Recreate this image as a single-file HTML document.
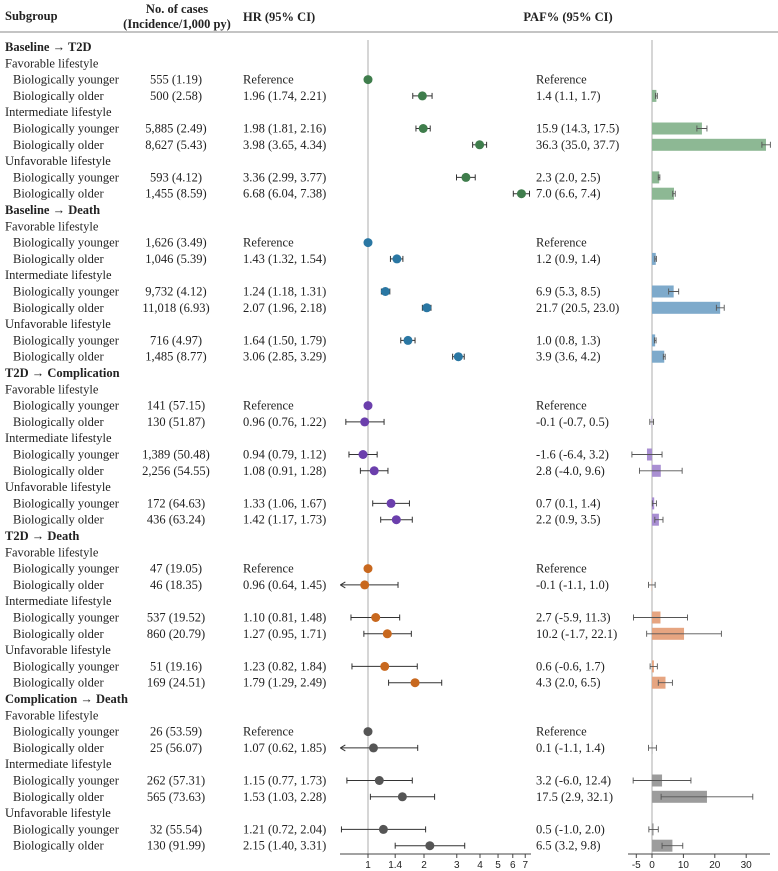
<!DOCTYPE html>
<html><head><meta charset="utf-8"><style>
body{margin:0;background:#fff}
svg{display:block;font-family:"Liberation Serif",serif;font-size:12.5px;fill:#222}
.ax{font-family:"Liberation Sans",sans-serif;font-size:10px}
</style></head><body>
<svg id="c" width="778" height="871"></svg>
<script>
const sections=["Baseline → T2D","Baseline → Death","T2D → Complication","T2D → Death","Complication → Death"];
const dotColors=["#3f7d4c","#2a77a3","#6b3fac","#c8681e","#555555"];
const barColors=["#8db894","#7eaacb","#a98fd2","#e6a581","#9c9c9c"];
const lifestyles=["Favorable lifestyle","Intermediate lifestyle","Unfavorable lifestyle"];
const groups=["Biologically younger","Biologically older"];
const cases=[["555 (1.19)","500 (2.58)","5,885 (2.49)","8,627 (5.43)","593 (4.12)","1,455 (8.59)"],
["1,626 (3.49)","1,046 (5.39)","9,732 (4.12)","11,018 (6.93)","716 (4.97)","1,485 (8.77)"],
["141 (57.15)","130 (51.87)","1,389 (50.48)","2,256 (54.55)","172 (64.63)","436 (63.24)"],
["47 (19.05)","46 (18.35)","537 (19.52)","860 (20.79)","51 (19.16)","169 (24.51)"],
["26 (53.59)","25 (56.07)","262 (57.31)","565 (73.63)","32 (55.54)","130 (91.99)"]];
const hr=[[1,1.96,1.98,3.98,3.36,6.68],[1,1.43,1.24,2.07,1.64,3.06],[1,0.96,0.94,1.08,1.33,1.42],[1,0.96,1.10,1.27,1.23,1.79],[1,1.07,1.15,1.53,1.21,2.15]];
const hrLo=[[null,1.74,1.81,3.65,2.99,6.04],[null,1.32,1.18,1.96,1.50,2.85],[null,0.76,0.79,0.91,1.06,1.17],[null,0.64,0.81,0.95,0.82,1.29],[null,0.62,0.77,1.03,0.72,1.40]];
const hrHi=[[null,2.21,2.16,4.34,3.77,7.38],[null,1.54,1.31,2.18,1.79,3.29],[null,1.22,1.12,1.28,1.67,1.73],[null,1.45,1.48,1.71,1.84,2.49],[null,1.85,1.73,2.28,2.04,3.31]];
const paf=[[null,1.4,15.9,36.3,2.3,7.0],[null,1.2,6.9,21.7,1.0,3.9],[null,-0.1,-1.6,2.8,0.7,2.2],[null,-0.1,2.7,10.2,0.6,4.3],[null,0.1,3.2,17.5,0.5,6.5]];
const pafLo=[[null,1.1,14.3,35.0,2.0,6.6],[null,0.9,5.3,20.5,0.8,3.6],[null,-0.7,-6.4,-4.0,0.1,0.9],[null,-1.1,-5.9,-1.7,-0.6,2.0],[null,-1.1,-6.0,2.9,-1.0,3.2]];
const pafHi=[[null,1.7,17.5,37.7,2.5,7.4],[null,1.4,8.5,23.0,1.3,4.2],[null,0.5,3.2,9.6,1.4,3.5],[null,1.0,11.3,22.1,1.7,6.5],[null,1.4,12.4,32.1,2.0,9.8]];
const hrTicks=[1,1.4,2,3,4,5,6,7];
const pafTicks=[-5,0,10,20,30];

const svg=document.getElementById('c');const NS="http://www.w3.org/2000/svg";
function el(t,a,txt){const e=document.createElementNS(NS,t);for(const k in a)e.setAttribute(k,a[k]);if(txt!=null)e.textContent=txt;svg.appendChild(e);return e;}
const hx=v=>368+80.8*Math.log(v);
const px=v=>652+3.14*v;
const HRMIN=0.71;
const rowY=i=>47+16.3*i;
const axY=854;
let e;
e=el('text',{x:5,y:20,'font-weight':'bold'},'Subgroup');
e=el('text',{x:177,y:13,'font-weight':'bold','text-anchor':'middle'},'No. of cases');
e=el('text',{x:177,y:28,'font-weight':'bold','text-anchor':'middle'},'(Incidence/1,000 py)');
e=el('text',{x:243,y:21,'font-weight':'bold'},'HR (95% CI)');
e=el('text',{x:568,y:21,'font-weight':'bold','text-anchor':'middle'},'PAF% (95% CI)');
e=el('line',{x1:0,x2:778,y1:32,y2:32,stroke:'#888','stroke-width':1});
e=el('line',{x1:hx(1),x2:hx(1),y1:40,y2:axY,stroke:'#bbb','stroke-width':1.2});
e=el('line',{x1:px(0),x2:px(0),y1:40,y2:axY,stroke:'#bbb','stroke-width':1.2});
let r=0;
sections.forEach((s,si)=>{
  e=el('text',{x:5,y:rowY(r)+4,'font-weight':'bold'},s);r++;
  lifestyles.forEach((l,li)=>{
    e=el('text',{x:5,y:rowY(r)+4},l);r++;
    groups.forEach((g,gi)=>{
      const k=li*2+gi,y=rowY(r),ty=y+4;
      e=el('text',{x:13,y:ty},g);
      e=el('text',{x:176,y:ty,'text-anchor':'middle'},cases[si][k]);
      const ref=hrLo[si][k]==null;
      e=el('text',{x:243,y:ty},ref?'Reference':hr[si][k].toFixed(2)+' ('+hrLo[si][k].toFixed(2)+', '+hrHi[si][k].toFixed(2)+')');
      e=el('text',{x:536,y:ty},ref?'Reference':paf[si][k].toFixed(1)+' ('+pafLo[si][k].toFixed(1)+', '+pafHi[si][k].toFixed(1)+')');
      const c=dotColors[si];
      if(!ref){
        const lo=hrLo[si][k],x1=hx(Math.max(lo,HRMIN)),x2=hx(hrHi[si][k]);
        e=el('line',{x1:x1,x2:x2,y1:y,y2:y,stroke:'#333','stroke-width':1});
        if(lo<HRMIN){e=el('path',{d:`M${x1} ${y} l5 -3 M${x1} ${y} l5 3`,stroke:'#333',fill:'none'});}
        else{e=el('line',{x1:x1,x2:x1,y1:y-3,y2:y+3,stroke:'#333'});}
        e=el('line',{x1:x2,x2:x2,y1:y-3,y2:y+3,stroke:'#333'});
        const v=paf[si][k];
        e=el('rect',{x:Math.min(px(0),px(v)),y:y-6,width:Math.abs(px(v)-px(0)),height:12,fill:barColors[si]});
        const a=px(pafLo[si][k]),b=px(pafHi[si][k]);
        e=el('path',{d:`M${a} ${y}H${b}M${a} ${y-3}v6M${b} ${y-3}v6`,stroke:'#555','stroke-width':0.9,fill:'none'});
      }
      e=el('circle',{cx:hx(hr[si][k]),cy:y,r:4.5,fill:c});
      r++;
    });
  });
});
e=el('line',{x1:340,x2:531,y1:axY,y2:axY,stroke:'#444'});
hrTicks.forEach(t=>{e=el('line',{x1:hx(t),x2:hx(t),y1:axY,y2:axY+4,stroke:'#444'});
 e=el('text',{x:hx(t),y:axY+14,'text-anchor':'middle',class:'ax'},String(t));});
e=el('line',{x1:628,x2:770,y1:axY,y2:axY,stroke:'#444'});
pafTicks.forEach(t=>{e=el('line',{x1:px(t),x2:px(t),y1:axY,y2:axY+4,stroke:'#444'});
 e=el('text',{x:px(t),y:axY+14,'text-anchor':'middle',class:'ax'},String(t));});
</script>
</body></html>
